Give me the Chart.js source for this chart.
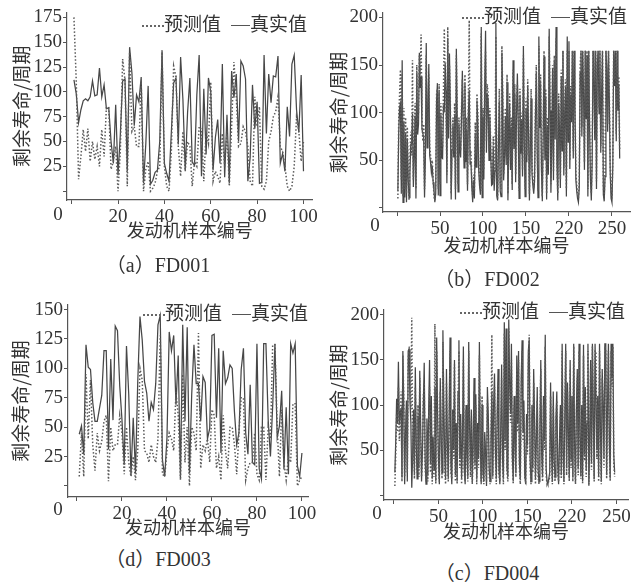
<!DOCTYPE html>
<html>
<head>
<meta charset="utf-8">
<script src="https://cdn.jsdelivr.net/npm/chart.js@4.4.1/dist/chart.umd.min.js"></script>
<style>
    body { margin: 0; width: 641px; height: 583px; position: relative; overflow: hidden; background: #fff; color: #333; }
    canvas { position: absolute; }
    .legenda { position: absolute; font: 19px "Noto Sans CJK SC", sans-serif; line-height: 20px; white-space: nowrap; transform: translateY(-50%); }
    .pontilhado { display: inline-block; width: 22px; border-top: 2px dotted #666; vertical-align: middle; }
    .continuo { display: inline-block; width: 19px; margin-left: 10px; border-top: 1.5px solid #555; vertical-align: middle; }
    .zero { position: absolute; font: 19px "Liberation Serif", serif; transform: translate(-50%, -50%); }
    .legendaFig { position: absolute; font: 20px "Liberation Serif", "Noto Sans CJK SC", serif; white-space: nowrap; transform: translate(-50%, -50%); }
</style>
</head>
<body>
<canvas id="fd001" width="320" height="250" style="left:0;top:0"></canvas>
<canvas id="fd002" width="321" height="262" style="left:320px;top:0"></canvas>
<canvas id="fd003" width="320" height="250" style="left:0;top:290px"></canvas>
<canvas id="fd004" width="321" height="252" style="left:320px;top:290px"></canvas>

<div class="legenda" style="left:142px;top:23px"><span class="pontilhado"></span>预测值<span class="continuo"></span>真实值</div>
<div class="legenda" style="left:462px;top:15px"><span class="pontilhado"></span>预测值<span class="continuo"></span>真实值</div>
<div class="legenda" style="left:143px;top:312px"><span class="pontilhado"></span>预测值<span class="continuo"></span>真实值</div>
<div class="legenda" style="left:460px;top:310px"><span class="pontilhado"></span>预测值<span class="continuo"></span>真实值</div>

<div class="zero" style="left:58px;top:214px">0</div>
<div class="zero" style="left:375px;top:225px">0</div>
<div class="zero" style="left:58px;top:509px">0</div>
<div class="zero" style="left:377px;top:513px">0</div>

<div class="legendaFig" style="left:158px;top:263px">（a）FD001</div>
<div class="legendaFig" style="left:487px;top:277px">（b）FD002</div>
<div class="legendaFig" style="left:158px;top:557px">（d）FD003</div>
<div class="legendaFig" style="left:487px;top:571px">（c）FD004</div>

<script>
// FD001
const realFD001 = [112, 98, 69, 82, 91, 93, 91, 95, 111, 96, 97, 124, 95, 107, 83, 84, 50, 28, 87, 16,
    57, 111, 113, 20, 145, 119, 66, 97, 90, 115, 8, 48, 106, 7, 11, 19, 21, 50, 142, 28,
    18, 10, 59, 109, 114, 47, 135, 92, 21, 79, 114, 29, 26, 97, 137, 15, 103, 37, 114, 100,
    21, 54, 72, 28, 128, 14, 77, 8, 121, 94, 118, 50, 131, 126, 113, 10, 34, 107, 63, 90,
    8, 9, 137, 58, 118, 89, 116, 115, 136, 28, 38, 20, 85, 55, 128, 137, 82, 59, 117, 20]
const predFD001 = [175, 110, 12, 35, 62, 40, 63, 30, 50, 32, 45, 25, 62, 35, 85, 84, 22, 30, 45, 0,
    40, 133, 112, 5, 140, 60, 65, 45, 45, 110, 0, 22, 30, 0, 3, 8, 20, 25, 140, 25,
    5, 0, 40, 126, 115, 45, 15, 60, 20, 50, 45, 5, 30, 25, 65, 62, 10, 60, 48, 110,
    10, 20, 15, 8, 58, 25, 60, 5, 65, 130, 95, 45, 48, 65, 60, 45, 10, 5, 95, 65,
    85, 5, 2, 10, 50, 60, 75, 80, 95, 45, 40, 25, 5, 0, 5, 25, 75, 60, 30, 50]

// FD002
const realFD002 = [18, 79, 106, 110, 15, 155, 6, 90, 11, 79, 6, 73, 30, 11, 37, 67, 68, 99, 22, 54,
    97, 10, 142, 77, 88, 163, 126, 138, 83, 78, 75, 11, 53, 173, 63, 100, 151, 55, 48, 37,
    44, 27, 18, 6, 15, 112, 131, 13, 122, 13, 98, 53, 52, 106, 103, 152, 123, 26, 178, 73,
    162, 105, 9, 61, 86, 53, 97, 9, 167, 96, 17, 87, 63, 53, 96, 144, 90, 42, 130, 48,
    82, 18, 99, 124, 46, 49, 22, 6, 29, 10, 78, 43, 113, 89, 40, 23, 14, 190, 11, 96,
    30, 127, 186, 58, 120, 113, 50, 96, 58, 24, 25, 64, 18, 39, 194, 13, 8, 66, 112, 18,
    12, 163, 112, 29, 52, 96, 45, 132, 8, 67, 110, 40, 85, 19, 155, 62, 120, 27, 99, 141,
    88, 10, 118, 57, 92, 33, 170, 72, 12, 104, 48, 128, 79, 8, 60, 115, 36, 24, 15, 28,
    97, 142, 63, 11, 180, 84, 131, 40, 7, 73, 159, 50, 117, 9, 86, 35, 188, 102, 16, 64,
    146, 29, 155, 72, 190, 47, 8, 110, 84, 21, 138, 60, 165, 34, 98, 127, 12, 180, 69, 175,
    41, 119, 90, 165, 52, 165, 108, 30, 18, 10, 6, 22, 142, 165, 75, 165, 118, 40, 165, 93,
    160, 12, 165, 84, 30, 8, 48, 165, 138, 71, 165, 20, 151, 165, 99, 165, 58, 122, 165, 14,
    7, 33, 165, 146, 80, 165, 110, 36, 10, 6, 44, 165, 128, 165, 70, 165, 102, 130, 52]
const predFD002 = [10, 95, 120, 145, 30, 140, 12, 105, 20, 95, 15, 85, 40, 8, 50, 80, 55, 155, 30, 70,
    110, 20, 150, 90, 100, 160, 140, 182, 95, 70, 88, 20, 60, 160, 75, 110, 140, 65, 55, 45,
    50, 30, 12, 8, 25, 120, 125, 20, 130, 25, 110, 60, 65, 120, 188, 140, 110, 35, 190, 85,
    150, 115, 15, 75, 95, 60, 110, 20, 160, 100, 25, 95, 70, 60, 105, 135, 100, 50, 140, 60,
    95, 25, 110, 197, 55, 60, 30, 12, 35, 18, 90, 55, 120, 100, 50, 30, 20, 183, 18, 105,
    40, 135, 165, 70, 130, 120, 60, 105, 65, 30, 35, 75, 25, 50, 180, 20, 10, 75, 125, 25,
    20, 170, 120, 35, 60, 105, 55, 140, 15, 75, 120, 50, 95, 25, 145, 70, 130, 35, 110, 130,
    95, 18, 125, 65, 100, 40, 160, 80, 20, 115, 55, 135, 90, 15, 70, 125, 45, 30, 20, 35,
    105, 150, 70, 18, 170, 95, 140, 50, 12, 80, 165, 60, 125, 15, 95, 45, 180, 110, 25, 75,
    150, 38, 160, 80, 178, 55, 15, 120, 90, 30, 145, 70, 165, 42, 108, 135, 20, 165, 78, 165,
    50, 128, 98, 165, 60, 165, 115, 38, 25, 15, 10, 30, 150, 165, 85, 165, 125, 48, 165, 100,
    165, 20, 165, 92, 38, 15, 55, 165, 145, 80, 165, 28, 158, 165, 105, 165, 65, 130, 165, 22,
    12, 40, 165, 150, 88, 165, 118, 44, 18, 10, 52, 165, 135, 165, 78, 165, 110, 138, 60]

// FD003
const realFD003 = [44, 51, 27, 120, 101, 99, 71, 55, 55, 66, 77, 115, 115, 31, 108, 56, 136, 132, 85, 56,
    18, 119, 78, 9, 58, 11, 88, 144, 124, 89, 79, 55, 71, 65, 87, 137, 145, 22, 8, 41,
    131, 115, 128, 69, 111, 7, 137, 55, 135, 11, 78, 120, 87, 87, 55, 93, 88, 40, 49, 128,
    129, 58, 117, 28, 115, 87, 92, 103, 100, 63, 35, 45, 99, 117, 45, 27, 86, 20, 18, 121,
    15, 6, 121, 121, 56, 25, 68, 121, 41, 51, 81, 14, 67, 10, 121, 113, 121, 17, 8, 28]
const predFD003 = [8, 45, 8, 95, 40, 90, 35, 13, 45, 30, 38, 55, 60, 4, 50, 30, 35, 35, 60, 45,
    10, 50, 20, 8, 25, 5, 30, 100, 90, 30, 28, 20, 35, 25, 20, 40, 128, 10, 8, 30,
    45, 40, 30, 80, 60, 5, 95, 20, 50, 0, 50, 45, 30, 130, 15, 35, 30, 40, 20, 65,
    60, 15, 25, 5, 60, 30, 15, 50, 50, 35, 10, 45, 75, 75, 5, 15, 20, 20, 45, 10,
    5, 50, 50, 5, 50, 40, 120, 120, 50, 8, 65, 20, 5, 25, 20, 70, 70, 0, 5, 8]

// FD004
const realFD004 = [25, 60, 107, 80, 148, 78, 92, 95, 20, 160, 100, 12, 70, 105, 15, 160, 162, 104, 80, 8,
    45, 95, 25, 142, 60, 18, 88, 30, 138, 75, 15, 50, 100, 147, 40, 12, 85, 22, 95, 150,
    35, 110, 18, 65, 28, 120, 15, 175, 90, 40, 12, 130, 70, 25, 183, 100, 45, 18, 140, 60,
    20, 88, 175, 35, 12, 95, 50, 150, 22, 80, 15, 115, 172, 40, 90, 18, 60, 165, 30, 12,
    100, 45, 20, 170, 75, 28, 95, 15, 55, 130, 35, 112, 18, 80, 40, 170, 60, 12, 100, 25,
    15, 70, 45, 10, 120, 88, 30, 15, 60, 115, 22, 100, 135, 50, 18, 90, 140, 28, 12, 75,
    145, 40, 18, 192, 60, 185, 30, 20, 195, 125, 90, 168, 45, 15, 110, 60, 25, 155, 80, 160,
    35, 18, 130, 172, 70, 105, 22, 12, 90, 55, 160, 173, 40, 15, 100, 30, 140, 85, 18, 62,
    120, 28, 15, 75, 150, 45, 20, 110, 60, 178, 30, 15, 12, 18, 25, 125, 50, 15, 115, 40,
    20, 85, 115, 35, 12, 60, 100, 22, 168, 48, 15, 90, 168, 30, 125, 70, 18, 150, 40, 110,
    20, 168, 55, 15, 95, 140, 30, 168, 65, 22, 100, 15, 167, 45, 120, 28, 80, 168, 12, 60,
    150, 35, 168, 90, 18, 168, 168, 50, 110, 20, 168, 75, 15, 140, 100, 40, 168, 168, 22, 100,
    168, 60, 18, 168, 130, 168, 45, 25]
const predFD004 = [10, 45, 90, 70, 120, 60, 80, 115, 15, 155, 110, 20, 60, 95, 25, 150, 165, 120, 95, 197,
    35, 80, 18, 120, 50, 25, 100, 20, 130, 60, 20, 40, 110, 125, 30, 15, 70, 15, 85, 120,
    25, 95, 12, 55, 20, 190, 12, 160, 100, 30, 15, 115, 60, 18, 170, 95, 30, 12, 125, 50,
    15, 75, 160, 25, 18, 90, 40, 145, 15, 70, 12, 100, 160, 30, 80, 12, 50, 150, 25, 15,
    95, 35, 15, 160, 65, 20, 85, 12, 45, 115, 28, 100, 12, 70, 30, 155, 50, 15, 110, 20,
    12, 60, 35, 15, 105, 80, 22, 12, 50, 178, 18, 85, 120, 40, 12, 80, 125, 22, 15, 60,
    130, 30, 12, 180, 50, 175, 25, 15, 185, 115, 80, 150, 35, 12, 100, 50, 20, 140, 70, 150,
    28, 12, 115, 160, 60, 95, 18, 15, 80, 45, 145, 178, 30, 12, 90, 25, 125, 75, 12, 55,
    105, 20, 12, 65, 140, 38, 15, 100, 50, 165, 22, 12, 15, 15, 20, 110, 40, 12, 100, 30,
    15, 75, 105, 25, 15, 50, 90, 18, 160, 40, 12, 80, 160, 22, 115, 60, 15, 140, 30, 100,
    15, 165, 45, 12, 85, 130, 22, 160, 55, 18, 90, 12, 155, 38, 110, 20, 70, 160, 10, 50,
    140, 28, 165, 80, 15, 160, 160, 40, 100, 15, 160, 65, 12, 130, 90, 30, 165, 160, 18, 90,
    160, 50, 15, 160, 120, 165, 35, 20]

// ticks e rotulos
const xTicks100 = [0, 20, 40, 60, 80, 100]
const xLabels100 = ['', '20', '40', '60', '80', '100']
const xTicks250 = [0, 50, 100, 150, 200, 250]
const xLabels250 = ['', '50', '100', '150', '220', '250']
const yTicksA = [0, 25, 50, 75, 100, 125, 150, 175]
const yLabelsA = ['', '25', '50', '75', '100', '125', '150', '175']
const yTicksD = [0, 25, 50, 75, 100, 125, 150]
const yLabelsD = ['', '25', '50', '75', '100', '125', '150']
const yTicks200 = [0, 50, 100, 150, 200]
const yLabels200 = ['', '50', '100', '150', '200']

const corEixo = '#555'
const corTexto = '#333'

function pontos(valores) {
    return valores.map((v, i) => ({ x: i + 1, y: v }))
}

function desenharPainel(id, p) {
    const ctx = document.getElementById(id).getContext('2d')
    return new Chart(ctx, {
        type: 'line',
        data: {
            datasets: [{
                label: '预测值',
                data: pontos(p.pred),
                borderColor: '#5a5a5a',
                borderWidth: 1.5,
                borderDash: [1.5, 2],
                pointRadius: 0,
                tension: 0
            }, {
                label: '真实值',
                data: pontos(p.real),
                borderColor: '#474747',
                borderWidth: 1.25,
                pointRadius: 0,
                tension: 0
            }]
        },
        options: {
            responsive: false,
            animation: false,
            devicePixelRatio: 1,
            layout: { padding: { top: p.top, right: p.right, left: 0, bottom: 0 } },
            plugins: { legend: { display: false }, tooltip: { enabled: false } },
            scales: {
                x: {
                    type: 'linear',
                    min: p.xMin,
                    max: p.xMax,
                    afterBuildTicks: s => { s.ticks = p.xTicks.map(v => ({ value: v })) },
                    afterFit: s => { s.height = p.xHeight },
                    ticks: {
                        autoSkip: false, maxRotation: 0, padding: 2, color: corTexto,
                        font: { family: 'Liberation Serif', size: 19 },
                        callback: (v, i) => p.xLabels[i]
                    },
                    grid: { display: true, drawOnChartArea: false, drawTicks: true, tickLength: 4, color: corEixo },
                    border: { display: true, color: corEixo, width: 1.2 },
                    title: {
                        display: true, text: '发动机样本编号', color: corTexto,
                        font: { family: 'Noto Sans CJK SC', size: 18 },
                        padding: { top: 0, bottom: p.titleX }
                    }
                },
                y: {
                    min: p.yMin,
                    max: p.yMax,
                    afterBuildTicks: s => { s.ticks = p.yTicks.map(v => ({ value: v })) },
                    afterFit: s => { s.width = p.yWidth },
                    ticks: {
                        padding: 1, color: corTexto,
                        font: { family: 'Liberation Serif', size: 19 },
                        callback: (v, i) => p.yLabels[i]
                    },
                    grid: { display: true, drawOnChartArea: false, drawTicks: true, tickLength: 4, color: corEixo },
                    border: { display: true, color: corEixo, width: 1.2 },
                    title: {
                        display: true, text: '剩余寿命/周期', color: corTexto,
                        font: { family: 'Noto Sans CJK SC', size: 19 },
                        padding: { top: p.titleY, bottom: 0 }
                    }
                }
            }
        }
    })
}

desenharPainel('fd001', {
    real: realFD001, pred: predFD001,
    xMin: -2, xMax: 103.9, yMin: -8.9, yMax: 180,
    xTicks: xTicks100, xLabels: xLabels100, yTicks: yTicksA, yLabels: yLabelsA,
    top: 10, right: 7, yWidth: 67, xHeight: 50, titleX: 9, titleY: 10
})

desenharPainel('fd002', {
    real: realFD002, pred: predFD002,
    xMin: -16.3, xMax: 271, yMin: -4.2, yMax: 204.6,
    xTicks: xTicks250, xLabels: xLabels250, yTicks: yTicks200, yLabels: yLabels200,
    top: 13, right: 11, yWidth: 63, xHeight: 50, titleX: 6, titleY: 7
})

desenharPainel('fd003', {
    real: realFD003, pred: predFD003,
    xMin: -4, xMax: 102.7, yMin: -9.4, yMax: 153.9,
    xTicks: xTicks100, xLabels: xLabels100, yTicks: yTicksD, yLabels: yLabelsD,
    top: 15, right: 12, yWidth: 68, xHeight: 43, titleX: 2, titleY: 9
})

desenharPainel('fd004', {
    real: realFD004, pred: predFD004,
    xMin: -11.2, xMax: 263, yMin: -5.5, yMax: 205.5,
    xTicks: xTicks250, xLabels: xLabels250, yTicks: yTicks200, yLabels: yLabels200,
    top: 20, right: 13, yWidth: 64, xHeight: 42, titleX: 0, titleY: 7
})
</script>
</body>
</html>
